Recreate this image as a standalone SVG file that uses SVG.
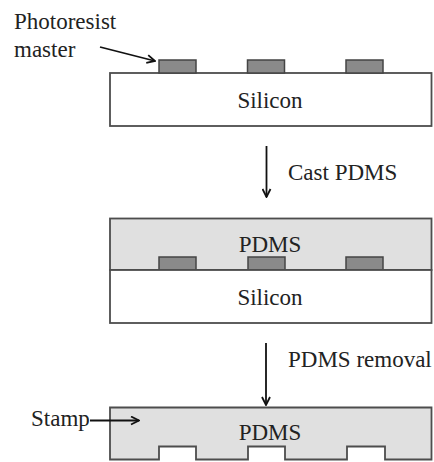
<svg xmlns="http://www.w3.org/2000/svg" width="434" height="462" viewBox="0 0 434 462">
<defs>
<marker id="ah" viewBox="0 0 10 10" refX="9" refY="5" markerWidth="10" markerHeight="10" markerUnits="userSpaceOnUse" orient="auto">
<path d="M1,1 L9,5 L1,9" fill="none" stroke="#111" stroke-width="1.8"/>
</marker>
</defs>
<style>
text{font-family:"Liberation Serif","Times New Roman",serif;font-size:23px;fill:#222}
.box{stroke:#4d4d4d;stroke-width:1.8}
.si{fill:#fff}
.pd{fill:#e0e0e0}
.pad{fill:#8a8a8a;stroke:#444;stroke-width:1.5}
.arr{stroke:#111;stroke-width:1.8;fill:none;marker-end:url(#ah)}
</style>
<rect width="434" height="462" fill="#fff"/>
<g id="silicon1">
<rect class="box si" x="110" y="73" width="321.5" height="53"/>
<text x="270" y="108" text-anchor="middle">Silicon</text>
</g>
<g id="pads1">
<rect class="pad" x="159" y="60" width="37" height="13"/>
<rect class="pad" x="247.5" y="60" width="37" height="13"/>
<rect class="pad" x="346" y="60" width="37" height="13"/>
</g>
<g id="label-photoresist">
<text x="14" y="29">Photoresist</text>
<text x="14" y="57">master</text>
</g>
<g id="pdms2">
<rect class="box pd" x="110" y="218.5" width="321.5" height="51.5"/>
<text x="270" y="252" text-anchor="middle">PDMS</text>
</g>
<g id="pads2">
<rect class="pad" x="159" y="257" width="37" height="13"/>
<rect class="pad" x="248" y="257" width="37" height="13"/>
<rect class="pad" x="346" y="257" width="37" height="13"/>
</g>
<g id="silicon2">
<rect class="box si" x="110" y="270" width="321.5" height="53"/>
<text x="270" y="305" text-anchor="middle">Silicon</text>
</g>
<g id="stamp">
<path class="box pd" d="M110,407.5 H431.5 V459.5 H385 V446.5 H347 V459.5 H285 V446.5 H248 V459.5 H196 V446.5 H159 V459.5 H110 Z"/>
<text x="270" y="440" text-anchor="middle">PDMS</text>
</g>
<g id="label-stamp">
<text x="31" y="426">Stamp</text>
</g>
<g id="step-labels">
<text x="288" y="180">Cast PDMS</text>
<text x="288" y="367">PDMS removal</text>
</g>
<g id="connectors">
<line class="arr" x1="100" y1="47" x2="155" y2="61"/>
<line class="arr" x1="266.5" y1="146" x2="266.5" y2="197"/>
<line class="arr" x1="266" y1="343" x2="266" y2="405"/>
<line class="arr" x1="90" y1="420.5" x2="139" y2="420.5"/>
</g>
</svg>
